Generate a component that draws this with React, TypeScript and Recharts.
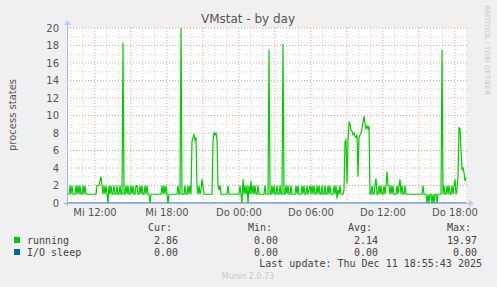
import React from "react";
import { ComposedChart, Line, XAxis, YAxis, ReferenceLine, CartesianGrid } from "recharts";

// time axis: minutes since Wednesday 00:00, one sample every 5 minutes
const START_MIN = 580;
const STEP_MIN = 5;

const running: number[] = [
  1, 1, 1, 2, 1, 2, 1, 1, 1, 2, 1, 2, 1, 2, 1, 1, 2, 1, 2, 1,
  1, 1, 1, 1, 1, 1, 1, 1, 1, 1, 2, 2, 2, 2.5, 3, 2, 1, 2, 1, 2,
  1, 0, 2, 1, 2, 1, 1, 2, 1, 1, 2, 1, 1, 2, 1, 1, 18.3, 1, 1, 2,
  1, 2, 1, 1, 2, 1, 2, 1, 1, 2, 2, 1, 1, 2, 1, 2, 1, 1, 2, 1,
  2, 1, 1, 0, 1, 1, 1, 1, 1, 1, 1, 1, 1, 1, 1, 2, 1, 2, 1, 2,
  1, 0, 1, 1, 1, 1, 1, 1, 1, 1, 1, 2, 1, 1, 19.97, 1, 1, 1, 2, 1,
  1, 2, 1, 2, 1, 7, 7.5, 7.8, 7.2, 7.5, 2, 1, 2, 1, 1.5, 2.7, 2, 1, 1, 1,
  1, 1, 1, 1, 1, 1, 7, 8, 7.8, 8, 7.2, 2, 1.5, 2, 1, 1, 1, 1, 1, 1,
  1, 2, 1, 1, 1, 1, 1, 1, 1, 1, 1, 1, 1, 2, 1, 0, 2.7, 1, 2, 1,
  2, 0, 2, 1, 2.5, 1, 2, 1, 2, 1, 1, 2, 1, 1, 1, 1, 1, 1, 2, 1,
  1, 1, 17.5, 1, 1, 2, 1, 2, 1, 1, 2, 1, 1, 2, 1, 1, 18.2, 1, 1, 2,
  1, 2, 1, 1, 2, 1, 1, 1, 1, 2, 1, 2, 1, 1, 1, 2, 1, 2, 1, 1,
  2, 1, 1.5, 2, 1, 2, 1, 2, 1, 1, 2, 1, 2, 1, 1, 2, 1, 1, 2, 1,
  1, 2, 1, 2, 1, 1, 1, 2, 1, 2, 0.5, 1.5, 1, 2, 1, 1, 1, 1.5, 7, 7.2,
  2.2, 7, 9.3, 9, 8.3, 8.2, 7.8, 8, 7.6, 7.5, 7.8, 3, 7.4, 7.8, 8, 8.5, 9.3, 9.9, 9, 8.5,
  8.8, 8.5, 8.8, 1, 1, 2, 1, 1, 2, 2.8, 1, 1, 2, 1, 2, 1, 1, 2, 1, 2,
  3.6, 2, 2, 1, 2, 1, 2, 1, 1, 1, 2, 1, 2, 2.7, 1, 2, 1, 1, 2, 1,
  1, 1, 1, 1, 1, 1, 1, 1, 1, 1, 1, 1, 1, 1, 1, 1, 2, 1, 1, 1,
  0, 1, 0, 1, 1, 0, 1, 0, 1, 1, 0, 1, 1, 1, 1, 17.5, 1, 2, 1, 1,
  2, 1, 2, 1, 1, 2, 1, 2, 2.7, 1, 1.5, 3, 8.6, 8.5, 6, 3.9, 4, 3.5, 2.5, 2.86,
];
const ioSleep: number[] = new Array(running.length).fill(0);

const xTicks = [720, 1080, 1440, 1800, 2160, 2520];
const xTickLabels = ["Mi 12:00", "Mi 18:00", "Do 00:00", "Do 06:00", "Do 12:00", "Do 18:00"];
const yTicks = [0, 2, 4, 6, 8, 10, 12, 14, 16, 18, 20];

const seriesNames = ["running", "I/O sleep"];
const seriesColors = ["#00CC00", "#0066B3"];
const curValues = ["2.86", "0.00"];
const minValues = ["0.00", "0.00"];
const avgValues = ["2.14", "0.00"];
const maxValues = ["19.97", "0.00"];

const X_DOMAIN: [number, number] = [START_MIN, START_MIN + 400 * STEP_MIN];
const minorXGrid: number[] = [];
for (let m = 600; m <= 2580; m += 60) if (m % 180 !== 0) minorXGrid.push(m);
const majorXGrid: number[] = [];
for (let m = 720; m <= 2580; m += 180) majorXGrid.push(m);
const minorYGrid = [1, 3, 5, 7, 9, 11, 13, 15, 17, 19];
const majorYGrid = [2, 4, 6, 8, 10, 12, 14, 16, 18, 20];

const data = running.map((v, i) => ({
  t: START_MIN + i * STEP_MIN,
  running: v,
  io: ioSleep[i],
}));

const SANS = "DejaVu Sans, sans-serif";
const MONO = "DejaVu Sans Mono, monospace";

export default function App() {
  const legendCols = [
    { head: "Cur:", vals: curValues, right: 178 },
    { head: "Min:", vals: minValues, right: 278 },
    { head: "Avg:", vals: avgValues, right: 378 },
    { head: "Max:", vals: maxValues, right: 477 },
  ];
  return (
    <div style={{ position: "fixed", left: 0, top: 0, width: 497, height: 287, background: "#F0F0F0" }}>
      <ComposedChart
        width={497}
        height={287}
        data={data}
        margin={{ top: 28, right: 30, bottom: 54, left: 8 }}
      >
        <CartesianGrid horizontal={false} vertical={false} fill="#FFFFFF" stroke="none" />
        {minorXGrid.map((m) => (
          <ReferenceLine key={"mx" + m} x={m} stroke="#D4D4D4" strokeDasharray="1 2" strokeWidth={1} />
        ))}
        {minorYGrid.map((v) => (
          <ReferenceLine key={"my" + v} y={v} stroke="#D4D4D4" strokeDasharray="1 2" strokeWidth={1} />
        ))}
        {majorXGrid.map((m) => (
          <ReferenceLine key={"Mx" + m} x={m} stroke="#EBA0A0" strokeDasharray="1 2" strokeWidth={1} />
        ))}
        {majorYGrid.map((v) => (
          <ReferenceLine key={"My" + v} y={v} stroke="#EBA0A0" strokeDasharray="1 2" strokeWidth={1} />
        ))}
        <XAxis
          dataKey="t"
          type="number"
          domain={X_DOMAIN}
          ticks={xTicks}
          tickFormatter={(v: number) => xTickLabels[xTicks.indexOf(v)]}
          tickLine={false}
          axisLine={false}
          tickMargin={0}
          interval={0}
          allowDataOverflow
          tick={{ fill: "#555555", fontSize: 10, fontFamily: SANS }}
        />
        <YAxis
          type="number"
          domain={[0, 20]}
          ticks={yTicks}
          width={59}
          interval={0}
          tickLine={false}
          axisLine={false}
          allowDataOverflow
          tick={{ fill: "#555555", fontSize: 10, fontFamily: SANS }}
        />
        <Line
          type="linear"
          dataKey="io"
          stroke={seriesColors[1]}
          strokeWidth={1}
          dot={false}
          isAnimationActive={false}
        />
        <Line
          type="linear"
          dataKey="running"
          stroke={seriesColors[0]}
          strokeWidth={1.2}
          dot={false}
          isAnimationActive={false}
        />
      </ComposedChart>
      <svg
        width={497}
        height={287}
        style={{ position: "absolute", left: 0, top: 0, pointerEvents: "none" }}
      >
        {/* axes with arrows */}
        <line x1={64} y1={203.5} x2={470} y2={203.5} stroke="#A8B4EC" strokeWidth={1} />
        <polygon points="469,199.5 474,203.5 469,207.5" fill="#C4CCF8" />
        <line x1={67.5} y1={206} x2={67.5} y2={25} stroke="#A8B4EC" strokeWidth={1} />
        <polygon points="63.5,25 67.5,20 71.5,25" fill="#C4CCF8" />
        {/* title */}
        <text x={248} y={23} textAnchor="middle" fontFamily={SANS} fontSize={12} fill="#555555">
          VMstat - by day
        </text>
        {/* y label */}
        <text
          transform="translate(16,115) rotate(-90)"
          textAnchor="middle"
          fontFamily={SANS}
          fontSize={10}
          fill="#555555"
        >
          process states
        </text>
        {/* rrdtool watermark */}
        <text
          transform="translate(485,5) rotate(90)"
          textAnchor="start"
          fontFamily={SANS}
          fontSize={7}
          fill="#C8C8C8"
        >
          RRDTOOL / TOBI OETIKER
        </text>
        {/* legend */}
        {legendCols.map((c) => (
          <text key={c.head} x={c.right - 6} y={231} textAnchor="end" fontFamily={MONO} fontSize={10} fill="#444444">
            {c.head}
          </text>
        ))}
        {seriesNames.map((name, i) => (
          <g key={name}>
            <rect x={14} y={237 + i * 12} width={6} height={6} fill={seriesColors[i]} />
            <text x={27} y={243.5 + i * 12} fontFamily={MONO} fontSize={10} fill="#444444">
              {name}
            </text>
            {legendCols.map((c) => (
              <text
                key={c.head}
                x={c.right}
                y={243.5 + i * 12}
                textAnchor="end"
                fontFamily={MONO}
                fontSize={10}
                fill="#444444"
              >
                {c.vals[i]}
              </text>
            ))}
          </g>
        ))}
        <text x={482} y={267} textAnchor="end" fontFamily={MONO} fontSize={10} fill="#444444">
          Last update: Thu Dec 11 18:55:43 2025
        </text>
        <text x={248} y={279} textAnchor="middle" fontFamily={SANS} fontSize={8} fill="#C8C8C8">
          Munin 2.0.73
        </text>
      </svg>
    </div>
  );
}
